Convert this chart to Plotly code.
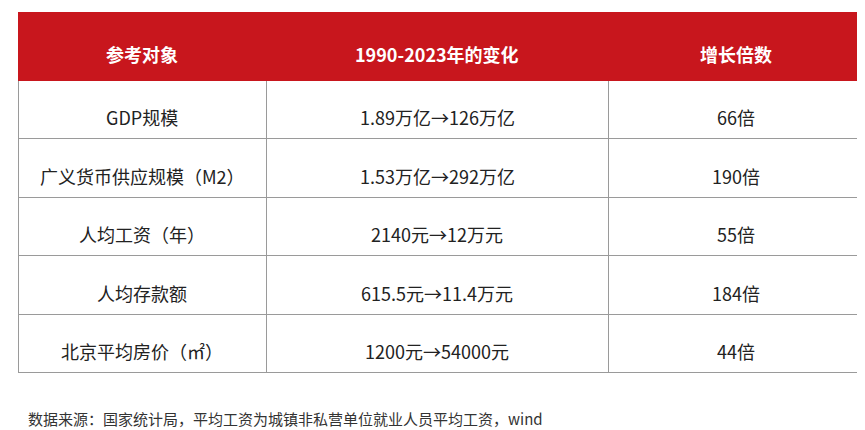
import plotly.graph_objects as go

headers = ["参考对象", "1990-2023年的变化", "增长倍数"]
items = ["GDP规模", "广义货币供应规模（M2）", "人均工资（年）", "人均存款额", "北京平均房价（㎡）"]
changes = ["1.89万亿→126万亿", "1.53万亿→292万亿", "2140元→12万元", "615.5元→11.4万元", "1200元→54000元"]
multiples = ["66倍", "190倍", "55倍", "184倍", "44倍"]
source = "数据来源：国家统计局，平均工资为城镇非私营单位就业人员平均工资，wind"

W, H = 865, 430
font = "Noto Sans CJK SC"
col_edges = [10, 258, 600, 855]
top, head_h, row_h = 12, 68, 58.5
blank = [[""] * len(items)] * 3

fig = go.Figure(go.Table(
    columnwidth=[col_edges[i + 1] - col_edges[i] for i in range(3)],
    header=dict(values=["", "", ""], fill_color="#c8161d", height=head_h,
                line=dict(color="#c8161d", width=1)),
    cells=dict(values=blank, fill_color="white", height=row_h,
               line=dict(color="#9a9a9a", width=1)),
    domain=dict(x=[col_edges[0] / W, col_edges[-1] / W], y=[0, 1 - (top - 8) / H]),
))

def add_text(txt, col, ypx, color, bold=False):
    fig.add_annotation(text=f"<b>{txt}</b>" if bold else txt,
                       x=(col_edges[col] + col_edges[col + 1]) / 2 / W, y=1 - ypx / H,
                       xref="paper", yref="paper", showarrow=False,
                       xanchor="center", yanchor="middle",
                       font=dict(size=18, color=color, family=font))

for c, h in enumerate(headers):
    add_text(h, c, top + head_h / 2, "white", bold=True)
for r, vals in enumerate(zip(items, changes, multiples)):
    for c, v in enumerate(vals):
        add_text(v, c, top + head_h + row_h * (r + 0.5), "#222")

fig.add_annotation(text=source, x=18 / W, y=1 - 410 / H, xref="paper", yref="paper",
                   xanchor="left", yanchor="middle", showarrow=False,
                   font=dict(size=15, color="#333", family=font))
fig.update_layout(width=W, height=H, margin=dict(l=0, r=0, t=0, b=0),
                  paper_bgcolor="white")
fig.write_html("out.html")
